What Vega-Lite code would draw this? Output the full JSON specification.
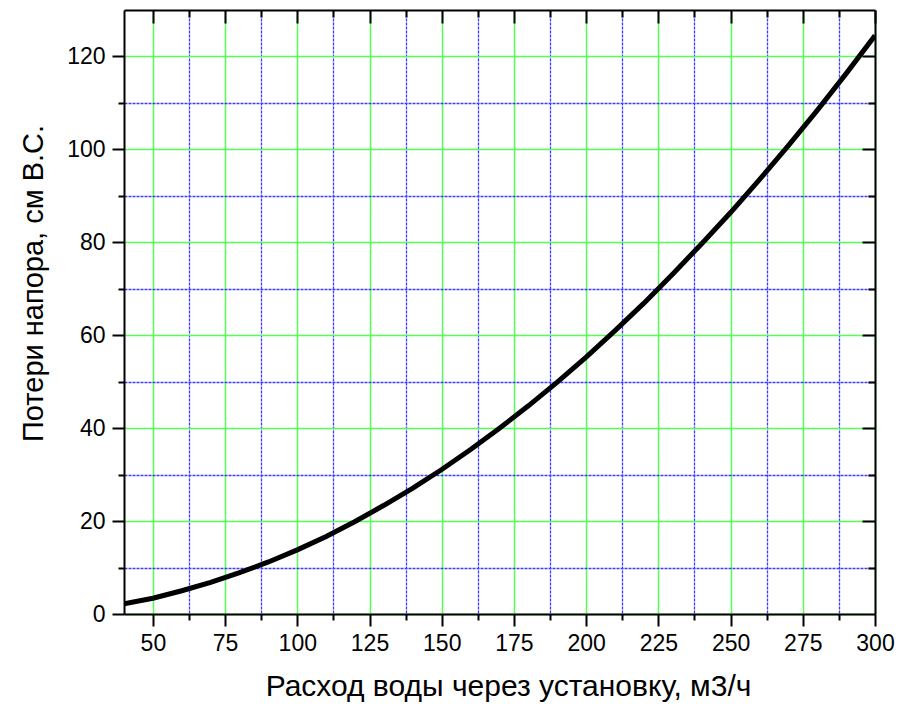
{
  "$schema": "https://vega.github.io/schema/vega-lite/v6.json",
  "width": 751,
  "height": 604,
  "autosize": "none",
  "padding": {"left": 124, "top": 10, "right": 26, "bottom": 97},
  "background": "white",
  "config": {
    "view": {"stroke": null},
    "font": "Liberation Sans",
    "axis": {"labelFont": "Liberation Sans", "titleFont": "Liberation Sans", "labelFontSize": 23, "labelColor": "black", "titleColor": "black", "titleFontWeight": "normal", "domainColor": "black", "domainWidth": 2, "tickColor": "black", "tickWidth": 2}
  },
  "data": {
    "values": [
      {"q": 40, "h": 2.2}, {"q": 50, "h": 3.4}, {"q": 60, "h": 5.0}, {"q": 70, "h": 6.8},
      {"q": 80, "h": 8.9}, {"q": 90, "h": 11.2}, {"q": 100, "h": 13.8}, {"q": 110, "h": 16.7},
      {"q": 120, "h": 19.9}, {"q": 130, "h": 23.4}, {"q": 140, "h": 27.1}, {"q": 150, "h": 31.1},
      {"q": 160, "h": 35.4}, {"q": 170, "h": 40.0}, {"q": 180, "h": 44.8}, {"q": 190, "h": 49.9},
      {"q": 200, "h": 55.3}, {"q": 210, "h": 61.0}, {"q": 220, "h": 66.9}, {"q": 230, "h": 73.2},
      {"q": 240, "h": 79.7}, {"q": 250, "h": 86.4}, {"q": 260, "h": 93.5}, {"q": 270, "h": 100.8},
      {"q": 280, "h": 108.4}, {"q": 290, "h": 116.3}, {"q": 300, "h": 124.5}
    ]
  },
  "resolve": {"axis": {"x": "independent", "y": "independent"}},
  "layer": [
    {
      "mark": {"type": "line", "color": "black", "strokeWidth": 5, "clip": true},
      "encoding": {
        "x": {
          "field": "q", "type": "quantitative",
          "scale": {"domain": [40, 300], "nice": false, "zero": false},
          "axis": {
            "orient": "bottom",
            "title": "Расход воды через установку, м3/ч",
            "titleFontSize": 30, "titlePadding": 16, "titleX": 384,
            "values": [50, 62.5, 75, 87.5, 100, 112.5, 125, 137.5, 150, 162.5, 175, 187.5, 200, 212.5, 225, 237.5, 250, 262.5, 275, 287.5, 300],
            "labelExpr": "datum.value % 25 === 0 ? datum.label : ''",
            "labelFontSize": 23, "labelPadding": 6, "labelOverlap": false, "labelFlush": false,
            "tickSize": {"condition": {"test": "datum.value % 25 === 0", "value": 12}, "value": 6},
            "grid": true,
            "gridColor": {"condition": {"test": "datum.value % 25 === 0", "value": "#55ff55"}, "value": "#3c3cff"},
            "gridDash": {"condition": {"test": "datum.value % 25 === 0", "value": []}, "value": [3, 1]},
            "gridWidth": {"condition": {"test": "datum.value % 25 === 0", "value": 1.5}, "value": 1.3},
            "gridOpacity": 1
          }
        },
        "y": {
          "field": "h", "type": "quantitative",
          "scale": {"domain": [0, 130], "nice": false, "zero": true},
          "axis": {
            "orient": "left",
            "title": "Потери напора, см В.С.",
            "titleFontSize": 29, "titlePadding": 18, "titleY": 273,
            "values": [0, 10, 20, 30, 40, 50, 60, 70, 80, 90, 100, 110, 120],
            "labelExpr": "datum.value % 20 === 0 ? datum.label : ''",
            "labelFontSize": 23, "labelPadding": 7, "labelOverlap": false, "labelFlush": false,
            "tickSize": {"condition": {"test": "datum.value % 20 === 0", "value": 12}, "value": 6},
            "grid": true,
            "gridColor": {"condition": {"test": "datum.value % 20 === 0", "value": "#55ff55"}, "value": "#3c3cff"},
            "gridDash": {"condition": {"test": "datum.value % 20 === 0", "value": []}, "value": [3, 1]},
            "gridWidth": {"condition": {"test": "datum.value % 20 === 0", "value": 1.5}, "value": 1.3},
            "gridOpacity": 1
          }
        }
      }
    },
    {
      "mark": {"type": "line", "color": "black", "strokeWidth": 4.5, "opacity": 0},
      "encoding": {
        "x": {
          "field": "q", "type": "quantitative",
          "axis": {
            "orient": "top", "title": null, "labels": false, "grid": false,
            "values": [50, 62.5, 75, 87.5, 100, 112.5, 125, 137.5, 150, 162.5, 175, 187.5, 200, 212.5, 225, 237.5, 250, 262.5, 275, 287.5, 300],
            "tickSize": {"condition": {"test": "datum.value % 25 === 0", "value": -13}, "value": -7}
          }
        },
        "y": {
          "field": "h", "type": "quantitative",
          "axis": {
            "orient": "right", "title": null, "labels": false, "grid": false,
            "values": [10, 20, 30, 40, 50, 60, 70, 80, 90, 100, 110, 120],
            "tickSize": {"condition": {"test": "datum.value % 20 === 0", "value": -13}, "value": -7}
          }
        }
      }
    }
  ]
}
